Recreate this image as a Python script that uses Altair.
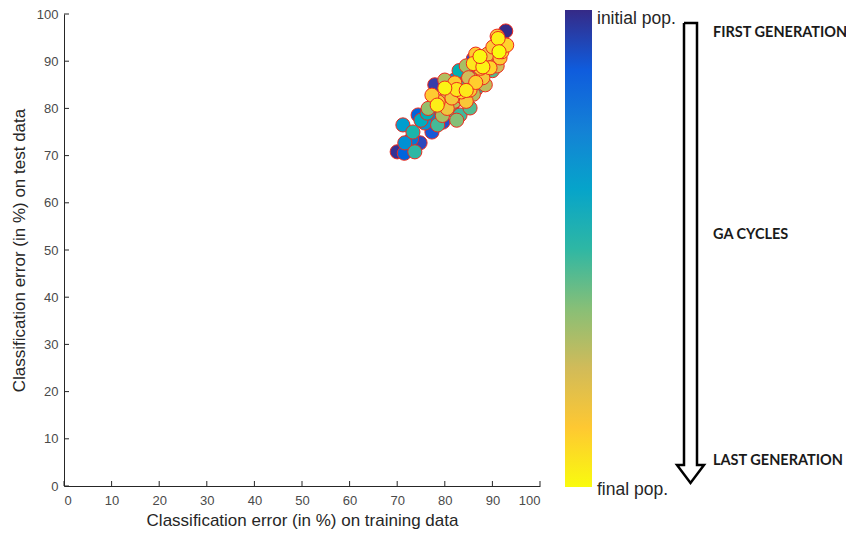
import altair as alt
import pandas as pd

# ---- data ----
TRAIN = [70.0, 92.8, 77.9, 74.8, 79.6, 77.3, 74.4, 81.5, 84.5, 88.5, 86.0, 71.5,
         71.6, 71.2, 75.8, 77.9, 80.0, 83.0, 85.5, 89.5, 82.0, 73.0,
         73.7, 73.3, 76.3, 81.1, 83.2, 85.3, 79.0, 84.0, 86.5, 87.5, 83.0, 90.0, 91.0, 78.5, 75.0,
         76.5, 79.5, 82.0, 83.8, 80.5, 86.0, 85.0, 87.0, 88.5, 89.0, 84.5, 91.0, 82.5, 80.0,
         77.3, 78.6, 81.5, 82.1, 80.5, 83.5, 85.3, 86.5, 87.5, 89.5, 88.0, 90.1, 93.0, 91.6, 91.0, 86.5, 89.0, 92.0, 84.5,
         78.4, 80.0, 84.5, 88.0, 87.4, 91.4, 91.2, 86.0, 82.5]
TEST = [70.8, 96.4, 85.0, 72.7, 77.1, 75.0, 78.6, 80.5, 84.0, 88.0, 90.5, 70.5,
        72.7, 76.5, 76.9, 78.6, 79.5, 82.0, 86.5, 90.0, 86.0, 73.5,
        70.8, 75.0, 79.0, 79.7, 78.6, 80.1, 81.0, 84.5, 84.0, 87.5, 88.0, 88.0, 91.5, 76.5, 77.5,
        80.0, 78.5, 81.5, 82.4, 83.0, 83.0, 86.5, 86.0, 85.0, 89.5, 89.0, 89.0, 77.5, 86.0,
        82.8, 81.4, 82.2, 85.4, 80.0, 83.5, 83.9, 85.5, 88.5, 88.6, 86.5, 93.0, 93.4, 90.7, 95.3, 91.5, 91.5, 92.0, 81.5,
        80.7, 84.3, 83.8, 88.8, 91.0, 92.0, 94.8, 89.5, 84.0]
GEN = [0.02, 0.0, 0.05, 0.08, 0.10, 0.12, 0.15, 0.10, 0.12, 0.06, 0.10, 0.15,
       0.30, 0.35, 0.32, 0.28, 0.25, 0.30, 0.28, 0.33, 0.30, 0.22,
       0.50, 0.48, 0.45, 0.50, 0.52, 0.55, 0.45, 0.50, 0.48, 0.52, 0.46, 0.55, 0.50, 0.53, 0.42,
       0.65, 0.68, 0.70, 0.72, 0.74, 0.70, 0.75, 0.66, 0.72, 0.70, 0.68, 0.75, 0.62, 0.70,
       0.88, 0.86, 0.85, 0.88, 0.84, 0.90, 0.87, 0.89, 0.86, 0.90, 0.85, 0.88, 0.90, 0.87, 0.86, 0.88, 0.84, 0.89, 0.86,
       0.97, 0.98, 0.96, 0.98, 0.99, 1.00, 0.97, 0.95, 0.95]
TICKS = [0, 10, 20, 30, 40, 50, 60, 70, 80, 90, 100]
PARULA = ["#352a87", "#0f5cdd", "#1481d6", "#06a4ca", "#2eb7a4",
          "#87bf77", "#d1bb59", "#fec832", "#f9fb0e"]
PARULA_POS = [i / (len(PARULA) - 1) for i in range(len(PARULA))]
ARROW_X = [620, 633, 633, 640, 626.5, 613, 620, 620]
ARROW_Y = [9, 9, 451, 451, 469, 451, 451, 9]

XTITLE = "Classification error (in %) on training data"
YTITLE = "Classification error (in %) on test data"
FONT = "Liberation Sans"

df = pd.DataFrame({"train": TRAIN, "test": TEST, "gen": GEN}).sort_values("gen", kind="stable")
df["order"] = range(len(df))
ticks = pd.DataFrame({"t": TICKS})
arrow = pd.DataFrame({"ax": ARROW_X, "ay": ARROW_Y, "i": range(len(ARROW_X))})

xscale = alt.Scale(domain=[0, 100], nice=False, zero=False)
yscale = alt.Scale(domain=[0, 100], nice=False, zero=False)
axis_common = dict(ticks=False, grid=False, domainColor="#262626", domainWidth=1,
                   labelColor="#4a4a4a", labelFont=FONT, labelFontSize=13,
                   titleColor="#262626", titleFont=FONT, titleFontSize=17,
                   titleFontWeight="normal", values=TICKS)

scatter = alt.Chart(df).mark_circle(size=200, opacity=1, stroke="#ee2a1e", strokeWidth=1).encode(
    x=alt.X("train:Q", scale=xscale, title=XTITLE,
            axis=alt.Axis(labelPadding=8, titlePadding=5, **axis_common)),
    y=alt.Y("test:Q", scale=yscale, title=YTITLE,
            axis=alt.Axis(labelPadding=6, titlePadding=8, **axis_common)),
    color=alt.Color("gen:Q", scale=alt.Scale(domain=PARULA_POS, range=PARULA), legend=None),
    order=alt.Order("order:Q"),
)

xt = alt.Chart(ticks).mark_rule(color="#262626", strokeWidth=1).encode(
    x=alt.X("t:Q", scale=xscale, title=XTITLE), y=alt.value(467), y2=alt.value(472))
yt = alt.Chart(ticks).mark_rule(color="#262626", strokeWidth=1).encode(
    y=alt.Y("t:Q", scale=yscale, title=YTITLE), x=alt.value(0), x2=alt.value(5))

main = alt.layer(scatter, xt, yt)

one = alt.Data(values=[{}])
grad = {"gradient": "linear", "x1": 0, "y1": 0, "x2": 0, "y2": 1,
        "stops": [{"offset": o, "color": c} for o, c in zip(PARULA_POS, PARULA)]}
cbar = alt.Chart(one).mark_rect(fill=grad).encode(
    x=alt.value(501), x2=alt.value(528), y=alt.value(-4), y2=alt.value(473))

arrow_line = alt.Chart(arrow).mark_line(color="black", strokeWidth=2.5, strokeJoin="miter").encode(
    x=alt.X("ax:Q", scale=None, axis=None), y=alt.Y("ay:Q", scale=None, axis=None),
    order=alt.Order("i:Q"))


def txt(s, x, y, bold=False, size=17.5, font=FONT, color="#262626"):
    return alt.Chart(one).mark_text(text=s, align="left", baseline="middle", font=font,
                                    fontSize=size, fontWeight="bold" if bold else "normal",
                                    color=color).encode(x=alt.value(x), y=alt.value(y))


texts = [
    txt("initial pop.", 533, 5),
    txt("final pop.", 533, 476),
    txt("FIRST GENERATION", 649, 19, bold=True, size=14.5, font="Lato", color="#1a1a1a"),
    txt("GA CYCLES", 649, 221, bold=True, size=14.5, font="Lato", color="#1a1a1a"),
    txt("LAST GENERATION", 649, 447, bold=True, size=14.5, font="Lato", color="#1a1a1a"),
]

chart = alt.layer(main, cbar, arrow_line, *texts).resolve_scale(
    x="independent", y="independent"
).properties(
    width=476, height=472,
    autosize=alt.AutoSizeParams(type="none"),
    padding={"left": 56, "top": 6, "right": 306, "bottom": 50},
    background="white",
).configure_view(strokeWidth=0, stroke="transparent")

chart.save("out.html", embed_options={"renderer": "svg", "actions": False})
